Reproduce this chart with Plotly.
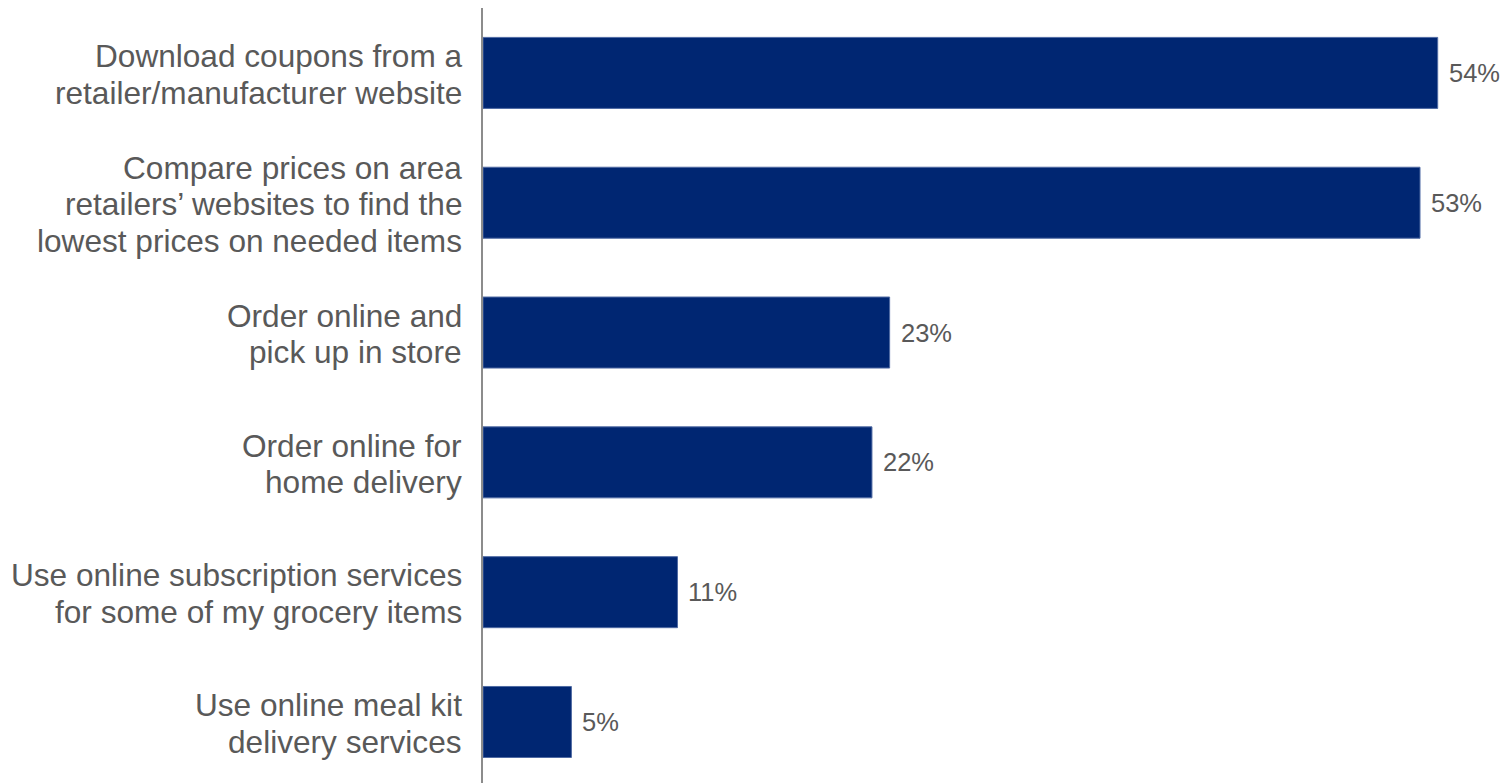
import plotly.graph_objects as go

# Survey results: share of shoppers using each online grocery activity
categories = [
    "Download coupons from a<br>retailer/manufacturer website",
    "Compare prices on area<br>retailers’ websites to find the<br>lowest prices on needed items",
    "Order online and<br>pick up in store",
    "Order online for<br>home delivery",
    "Use online subscription services<br>for some of my grocery items",
    "Use online meal kit<br>delivery services",
]
values = [54, 53, 23, 22, 11, 5]
value_labels = ["54%", "53%", "23%", "22%", "11%", "5%"]

BAR_COLOR = "#002672"
TEXT_COLOR = "#595959"
FONT = "Liberation Sans, Arial, sans-serif"
LINE_GAP = 36.5  # px between lines of a category label

positions = list(range(len(categories)))

fig = go.Figure(
    go.Bar(
        x=values,
        y=positions,
        orientation="h",
        width=0.547,
        marker=dict(color=BAR_COLOR, line=dict(color="#4f6aa3", width=1)),
        hoverinfo="skip",
    )
)

annotations = []
for pos, label, val, vtxt in zip(positions, categories, values, value_labels):
    lines = label.split("<br>")
    n = len(lines)
    for k, line in enumerate(lines):
        annotations.append(
            dict(
                xref="paper", x=0, yref="y", y=pos,
                xanchor="right", yanchor="middle",
                xshift=-19, yshift=-((k - (n - 1) / 2) * LINE_GAP) - 1.5,
                text=line, showarrow=False,
                font=dict(family=FONT, size=31.6, color=TEXT_COLOR),
            )
        )
    annotations.append(
        dict(
            xref="x", x=val, yref="y", y=pos,
            xanchor="left", yanchor="middle", xshift=9,
            text=vtxt, showarrow=False,
            font=dict(family=FONT, size=25.5, color=TEXT_COLOR),
        )
    )

fig.update_layout(
    width=1510,
    height=783,
    margin=dict(l=483, r=0, t=8, b=0),
    paper_bgcolor="white",
    plot_bgcolor="white",
    showlegend=False,
    annotations=annotations,
    xaxis=dict(range=[0, 58.09], visible=False, fixedrange=True),
    yaxis=dict(
        range=[5.47, -0.5],
        showticklabels=False,
        showgrid=False,
        zeroline=False,
        ticks="",
        showline=True,
        linecolor="#8c8c8c",
        linewidth=1.5,
        fixedrange=True,
    ),
)

fig.write_html("out.html")
